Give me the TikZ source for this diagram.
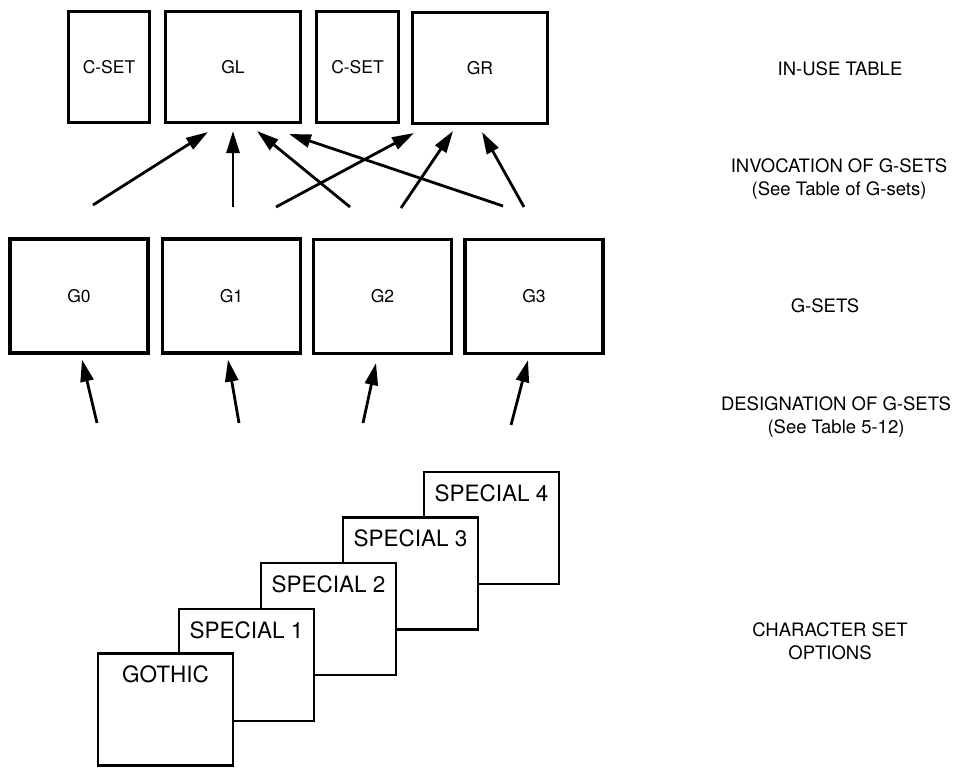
\documentclass[tikz,border=0pt]{standalone}
\usepackage{fontspec}
\setmainfont{TeX Gyre Heros}
\usetikzlibrary{arrows.meta}
\tikzset{
  setbox/.style={draw,line width=3pt,inner sep=0pt,minimum height=111pt,font=\fontsize{17.5}{20}\selectfont},
  gbox/.style={draw,line width=3.2pt,inner sep=0pt,minimum width=138pt,minimum height=114pt,font=\fontsize{17.5}{20}\selectfont},
  optbox/.style={draw,line width=2.2pt,fill=white,inner sep=0pt,minimum width=135pt,minimum height=112pt},
  optlbl/.style={anchor=center,yshift=-22pt,font=\fontsize{22.5}{25}\selectfont},
  side/.style={align=center,font=\fontsize{18.5}{23}\selectfont},
  arr/.style={line width=2.8pt,-{Triangle[length=22pt,width=13pt]}}
}
\begin{document}
\begin{tikzpicture}[x=1pt,y=-1pt]
\useasboundingbox (0,0) rectangle (953,768);
% in-use table
\node[setbox,minimum width=81pt] (cset1) at (109,67) {C-SET};
\node[setbox,minimum width=135pt] (gl) at (233,67) {GL};
\node[setbox,minimum width=82pt] (cset2) at (357.5,67) {C-SET};
\node[setbox,minimum width=135pt] (gr) at (480,68) {GR};
% g-sets
\node[gbox] (g0) at (79,296) {G0};
\node[gbox] (g1) at (231.5,296) {G1};
\node[gbox] (g2) at (382.5,296.5) {G2};
\node[gbox] (g3) at (534,296.5) {G3};
% character set options, back to front
\node[optbox,label={[optlbl]north:SPECIAL 4}] (sp4) at (491.5,528) {};
\node[optbox,label={[optlbl]north:SPECIAL 3}] (sp3) at (410.5,573.5) {};
\node[optbox,label={[optlbl]north:SPECIAL 2}] (sp2) at (328.5,619) {};
\node[optbox,label={[optlbl]north:SPECIAL 1}] (sp1) at (246.5,665) {};
\node[optbox,label={[optlbl]north:GOTHIC}] (gothic) at (165.5,709.5) {};
% row labels
\node[side] (inuse) at (840,69) {IN-USE TABLE};
\node[side] (invoc) at (839,179) {INVOCATION OF G-SETS\\(See Table of G-sets)};
\node[side] (gsets) at (825,306) {G-SETS};
\node[side] (desig) at (836,417) {DESIGNATION OF G-SETS\\(See Table 5-12)};
\node[side] (charopt) at (830,641) {CHARACTER SET\\OPTIONS};
% invocation
\coordinate (t1) at (93,205);
\coordinate (t2) at (233,207);
\coordinate (t3) at (350,207);
\coordinate (t4) at (503,206);
\coordinate (t5) at (276,207);
\coordinate (t6) at (401,208);
\coordinate (t7) at (524,207);
\draw[arr] (t1) -- ([xshift=-25pt,yshift=-8pt]gl.south);
\draw[arr] (t2) -- ([yshift=-7pt]gl.south);
\draw[arr] (t3) -- ([xshift=24pt,yshift=-7pt]gl.south);
\draw[arr] (t4) -- ([xshift=56pt,yshift=-10pt]gl.south);
\draw[arr] (t5) -- ([xshift=-66pt,yshift=-8pt]gr.south);
\draw[arr] (t6) -- ([xshift=-27pt,yshift=-6pt]gr.south);
\draw[arr] (t7) -- ([xshift=2pt,yshift=-7pt]gr.south);
% designation
\coordinate (d1) at (97,423);
\coordinate (d2) at (239,423);
\coordinate (d3) at (363,423);
\coordinate (d4) at (511,425);
\draw[arr] (d1) -- ([xshift=3pt,yshift=-5pt]g0.south);
\draw[arr] (d2) -- ([xshift=-3.5pt,yshift=-5pt]g1.south);
\draw[arr] (d3) -- ([xshift=-6.5pt,yshift=-8pt]g2.south);
\draw[arr] (d4) -- ([xshift=-6pt,yshift=-5pt]g3.south);
\end{tikzpicture}
\end{document}
